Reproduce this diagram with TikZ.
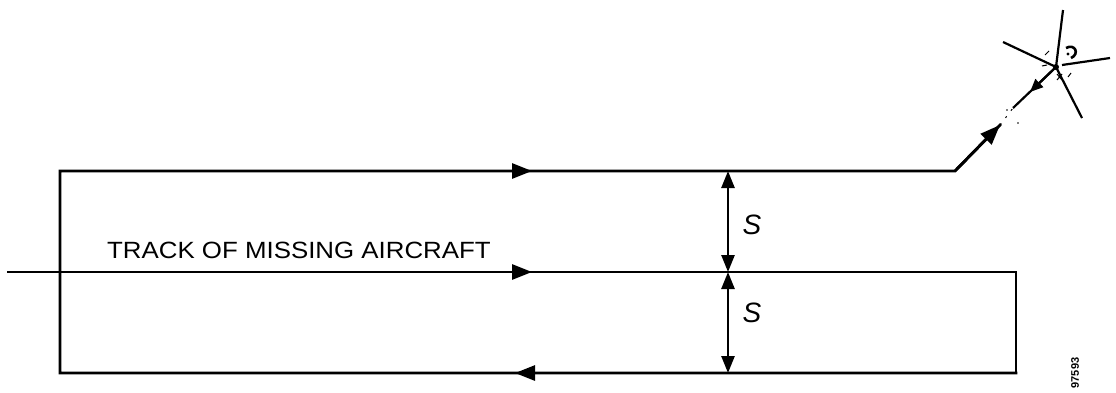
\documentclass[tikz,border=0pt]{standalone}
\usepackage{fontspec}
\setmainfont{Liberation Sans}
\usetikzlibrary{arrows.meta}
\begin{document}
\begin{tikzpicture}[x=1pt,y=-1pt,
  trk/.style={line width=2.8pt,line cap=rect},
  mid/.style={line width=2.8pt,-{Triangle[length=20pt,width=15pt]}},
  dim/.style={line width=2.6pt,{Triangle[length=17pt,width=13pt]}-{Triangle[length=17pt,width=13pt]}},
  ray/.style={line width=2.2pt},
  lbl/.style={inner sep=0pt}]
\useasboundingbox (0,0) rectangle (1116,392);
% corners
\coordinate (tl) at (60,171);
\coordinate (tc) at (955,171);
\coordinate (tip) at (1000,125);
\coordinate (ml) at (8,272);
\coordinate (mr) at (1016,272);
\coordinate (bl) at (60,373);
\coordinate (br) at (1016,373);
\coordinate (star) at (1056,67);
\coordinate (ta) at (532,171);
\coordinate (ma) at (532,272);
\coordinate (ba) at (515,373);
\coordinate (dt) at (728,171);
\coordinate (dm) at (728,272);
\coordinate (db) at (728,373);
% search track
\draw[trk,line join=miter] (br) -- (bl) -- (tl) -- (tc) -- (tip);
\draw[trk] (ml) -- (mr) -- (br);
\draw[mid] (tc) -- (tip);
\draw[mid] (tl) -- (ta);
\draw[mid] (ml) -- (ma);
\draw[mid] (br) -- (ba);
% separation arrows
\draw[dim] (dt) -- (dm);
\draw[dim] (dm) -- (db);
\node[lbl,font=\fontsize{28}{28}\selectfont\itshape] (s1) at (752,225) {S};
\node[lbl,font=\fontsize{28}{28}\selectfont\itshape] (s2) at (752,313) {S};
% label
\node[lbl,anchor=base west] (track) at (107,258)
  {\scalebox{1.1}[1]{\fontsize{23.5}{23.5}\selectfont TRACK OF MISSING AIRCRAFT}};
% star / datum
\coordinate (r1) at (1063,10);
\coordinate (r2) at (1003,42);
\coordinate (r3) at (1110,58);
\coordinate (r4) at (1082,118);
\coordinate (r5) at (1013,108);
\coordinate (r5a) at (1030,92);
\draw[ray] (star) -- (r1);
\draw[ray] (star) -- (r2);
\draw[ray] (1062,65) -- (r3);
\draw[ray] (star) -- (r4);
\draw[ray] (star) -- (r5);
\draw[line width=2.2pt,-{Triangle[length=13pt,width=11pt]}] (star) -- (r5a);
\fill (star) circle (3pt);
\draw[line width=1pt] (1045,55) -- (1049,51);
\draw[line width=1pt] (1042,66) -- (1047,65);
\draw[line width=1pt] (1057,74) -- (1062,80) (1062,74) -- (1057,80);
\draw[line width=1pt] (1068,77) -- (1071,73);
\draw[line width=2.6pt] (1066,48) .. controls (1075,43) and (1080,54) .. (1071,58);
\fill (1068,54) circle (1.6pt);
\draw[line width=1pt,dash pattern=on 2pt off 7pt] (tip) -- (r5);
\fill (1007,110) circle (0.9pt);
\fill (1018,123) circle (0.9pt);
% figure number
\node[lbl,rotate=90,font=\fontsize{11}{11}\selectfont\bfseries] (num) at (1075,373) {97593};
\end{tikzpicture}
\end{document}
